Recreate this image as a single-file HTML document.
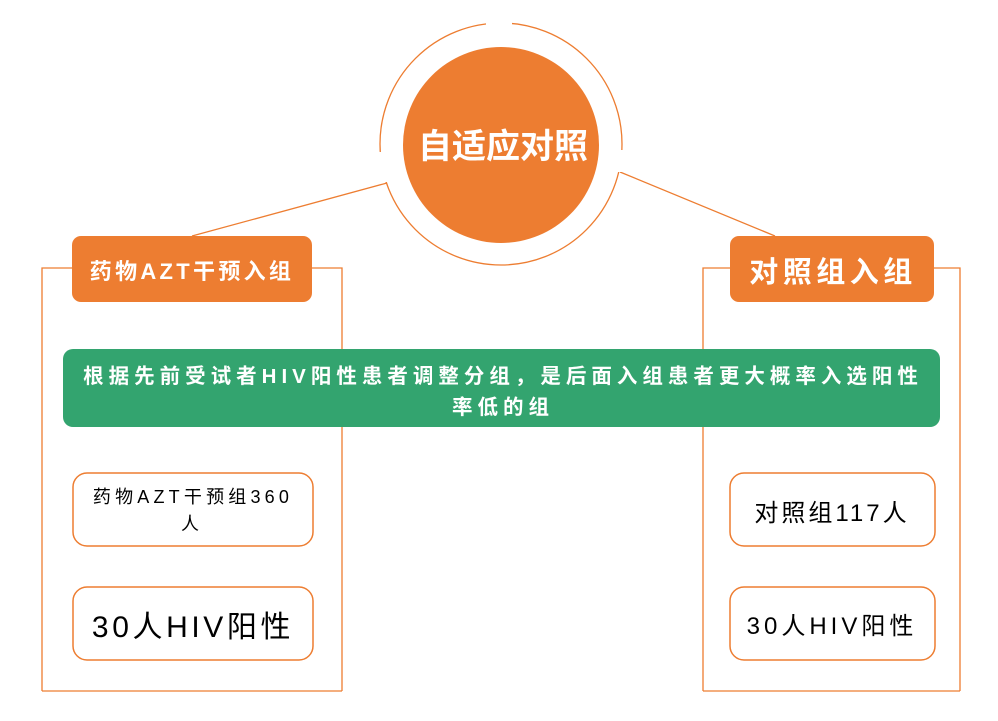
<!DOCTYPE html>
<html><head><meta charset="utf-8"><style>
body{margin:0;background:#fff;width:998px;height:721px;overflow:hidden}
svg{display:block}
text{font-family:"Liberation Sans","Noto Sans CJK SC",sans-serif}
</style></head><body>
<svg width="998" height="721" viewBox="0 0 998 721">
<g fill="none" stroke="#ED7D31" stroke-width="1.3">
<circle cx="501" cy="144" r="121"/>
<path d="M42 691V268H72 M312 268H342V691 M42 691H342"/>
<path d="M703 691V268H730 M934 268H960V691 M703 691H960"/>
<path d="M387 183L192 236 M620 172L775 236"/>
</g>
<rect x="486" y="18" width="26" height="12" fill="#fff"/>
<rect x="374" y="152" width="18" height="30" fill="#fff"/>
<rect x="612" y="150" width="18" height="22" fill="#fff"/>
<circle cx="501" cy="145" r="98" fill="#ED7D31"/>
<text x="503" y="158" font-size="34" font-weight="bold" fill="#fff" text-anchor="middle">自适应对照</text>
<rect x="72" y="236" width="240" height="66" rx="9" fill="#ED7D31"/>
<text x="192" y="279" font-size="22" font-weight="bold" fill="#fff" text-anchor="middle" letter-spacing="3.3">药物AZT干预入组</text>
<rect x="730" y="236" width="204" height="66" rx="9" fill="#ED7D31"/>
<text x="833" y="282" font-size="29" font-weight="bold" fill="#fff" text-anchor="middle" letter-spacing="4.5">对照组入组</text>
<rect x="63" y="349" width="877" height="78" rx="10" fill="#33A46F"/>
<text x="503" y="383" font-size="20.5" font-weight="bold" fill="#fff" text-anchor="middle" letter-spacing="5">根据先前受试者HIV阳性患者调整分组，是后面入组患者更大概率入选阳性</text>
<text x="503" y="414" font-size="20.5" font-weight="bold" fill="#fff" text-anchor="middle" letter-spacing="5">率低的组</text>
<g fill="#fff" stroke="#ED7D31" stroke-width="1.5">
<rect x="73" y="473" width="240" height="73" rx="14"/>
<rect x="73" y="587" width="240" height="73" rx="14"/>
<rect x="730" y="473" width="205" height="73" rx="14"/>
<rect x="730" y="587" width="205" height="73" rx="14"/>
</g>
<g fill="#000" text-anchor="middle">
<text x="193" y="503" font-size="18" letter-spacing="4.2">药物AZT干预组360</text>
<text x="190" y="530" font-size="18">人</text>
<text x="193" y="637" font-size="30" letter-spacing="3.6">30人HIV阳性</text>
<text x="832" y="521" font-size="24" letter-spacing="3">对照组117人</text>
<text x="832" y="634" font-size="24" letter-spacing="4">30人HIV阳性</text>
</g>
</svg>
</body></html>
